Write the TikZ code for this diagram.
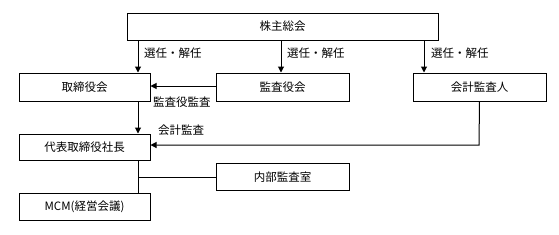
\documentclass[tikz,border=0pt]{standalone}
\usepackage{fontspec}
\newfontfamily\cjk{Noto Sans CJK JP}
\usetikzlibrary{arrows.meta}
\begin{document}
\begin{tikzpicture}[x=1pt,y=-1pt,
  box/.style={draw,line width=1pt,inner sep=0pt},
  lbl/.style={font=\cjk\fontsize{11.5}{13}\selectfont,inner sep=0pt},
  conn/.style={line width=1pt},
  arr/.style={conn,-{Triangle[length=6pt,width=6pt]}}]
\useasboundingbox (0,0) rectangle (559,234);
\node[box,minimum width=311pt,minimum height=27pt] (gm) at (282.5,26.5) {};
\node[lbl] at (gm) {株主総会};
\node[box,minimum width=131pt,minimum height=28pt] (bd) at (84.5,87) {};
\node[lbl] at (bd) {取締役会};
\node[box,minimum width=133pt,minimum height=28pt] (aud) at (282.5,87) {};
\node[lbl] at (aud) {監査役会};
\node[box,minimum width=133pt,minimum height=28pt] (acc) at (479.5,87) {};
\node[lbl] at (acc) {会計監査人};
\node[box,minimum width=131pt,minimum height=26pt] (ceo) at (84.5,147) {};
\node[lbl] at (ceo) {代表取締役社長};
\node[box,minimum width=133pt,minimum height=27pt] (ia) at (282.5,177) {};
\node[lbl] at (ia) {内部監査室};
\node[box,minimum width=131pt,minimum height=27pt] (mcm) at (84.5,206.5) {};
\node[lbl] at (mcm) {MCM(経営会議)};
% arrows from general meeting
\coordinate (g1) at (138,40);
\coordinate (g2) at (281,40);
\coordinate (g3) at (424,40);
\draw[arr] (g1) -- (g1 |- bd.north);
\draw[arr] (g2) -- (g2 |- aud.north);
\draw[arr] (g3) -- (g3 |- acc.north);
\node[lbl,anchor=west] at (144,53) {選任・解任};
\node[lbl,anchor=west] at (287,53) {選任・解任};
\node[lbl,anchor=west] at (431,53) {選任・解任};
% audit
\coordinate (m1) at (216,86);
\draw[arr] (m1) -- (m1 -| bd.east);
\node[lbl,anchor=west] at (153,102) {監査役監査};
\coordinate (b1) at (138,101);
\draw[arr] (b1) -- (b1 |- ceo.north);
% accounting audit
\coordinate (a1) at (479,145);
\draw[arr] (acc.south) -- (a1) -- (ceo.east |- a1);
\node[lbl,anchor=west] at (158,130) {会計監査};
% internal
\coordinate (c1) at (138,160);
\coordinate (c2) at (138,177);
\draw[conn] (c1) -- (c1 |- mcm.north);
\draw[conn] (c2) -- (ia.west);
\end{tikzpicture}
\end{document}
